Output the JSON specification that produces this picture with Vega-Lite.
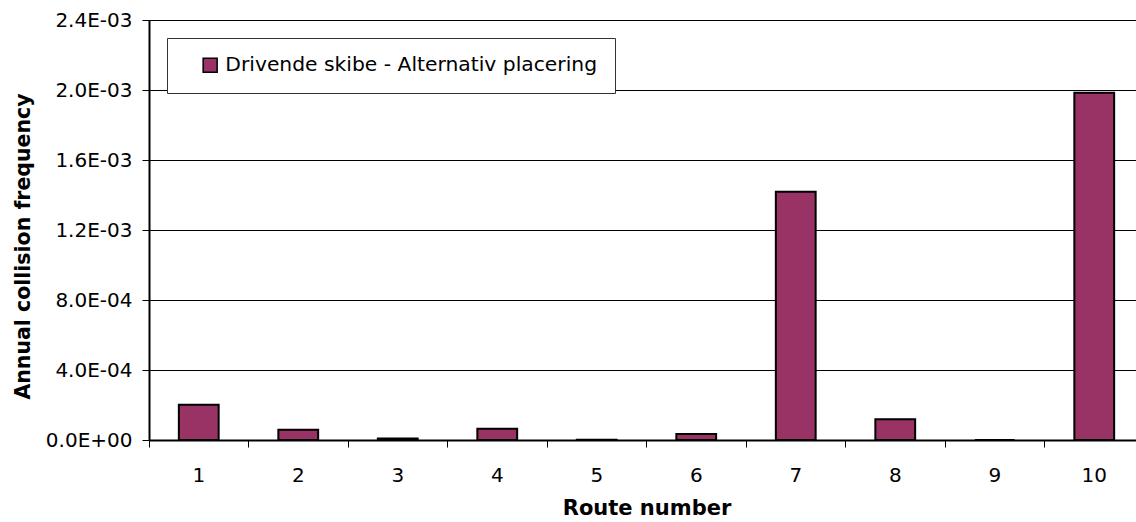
{
  "$schema": "https://vega.github.io/schema/vega-lite/v6.json",
  "width": 995,
  "height": 420,
  "autosize": "none",
  "padding": {"left": 149, "top": 20, "right": 0, "bottom": 82},
  "background": "white",
  "config": {"font": "DejaVu Sans", "view": {"stroke": null}},
  "data": {
    "values": [
      {"route": "1", "freq": 0.000202, "series": "Drivende skibe - Alternativ placering"},
      {"route": "2", "freq": 0.000059, "series": "Drivende skibe - Alternativ placering"},
      {"route": "3", "freq": 0.000008, "series": "Drivende skibe - Alternativ placering"},
      {"route": "4", "freq": 0.000065, "series": "Drivende skibe - Alternativ placering"},
      {"route": "5", "freq": 0.000001, "series": "Drivende skibe - Alternativ placering"},
      {"route": "6", "freq": 0.000034, "series": "Drivende skibe - Alternativ placering"},
      {"route": "7", "freq": 0.001419, "series": "Drivende skibe - Alternativ placering"},
      {"route": "8", "freq": 0.000119, "series": "Drivende skibe - Alternativ placering"},
      {"route": "9", "freq": 0.0, "series": "Drivende skibe - Alternativ placering"},
      {"route": "10", "freq": 0.001984, "series": "Drivende skibe - Alternativ placering"}
    ]
  },
  "mark": {"type": "bar", "width": {"band": 0.4}, "stroke": "#000", "strokeWidth": 2},
  "encoding": {
    "x": {
      "field": "route",
      "type": "ordinal",
      "sort": null,
      "scale": {"paddingInner": 0, "paddingOuter": 0},
      "axis": {
        "labelAngle": 0,
        "bandPosition": 0,
        "grid": false,
        "tickSize": 7,
        "tickColor": "#000",
        "tickWidth": 1,
        "domainColor": "#000",
        "domainWidth": 2,
        "labelFontSize": 20,
        "labelColor": "#000",
        "labelPadding": 18,
        "title": "Route number",
        "titleFontSize": 21,
        "titleFontWeight": "bold",
        "titleColor": "#000",
        "titlePadding": 12
      }
    },
    "y": {
      "field": "freq",
      "type": "quantitative",
      "scale": {"domain": [0, 0.0024], "nice": false},
      "axis": {
        "values": [0, 0.0004, 0.0008, 0.0012, 0.0016, 0.002, 0.0024],
        "labelExpr": "datum.value == 0 ? '0.0E+00' : format(datum.value / pow(10, floor(log(datum.value) / LN10)), '.1f') + 'E-0' + (-floor(log(datum.value) / LN10))",
        "grid": true,
        "gridColor": "#000",
        "gridWidth": 1,
        "gridOpacity": 1,
        "domainColor": "#000",
        "domainWidth": 2,
        "tickColor": "#000",
        "tickSize": 7,
        "tickWidth": 1,
        "labelFontSize": 20,
        "labelColor": "#000",
        "labelPadding": 10,
        "title": "Annual collision frequency",
        "titleFontSize": 20.5,
        "titleFontWeight": "bold",
        "titleColor": "#000",
        "titlePadding": 12,
        "titleY": 226
      }
    },
    "color": {
      "field": "series",
      "type": "nominal",
      "scale": {"range": ["#993366"]},
      "legend": {
        "title": null,
        "orient": "none",
        "legendX": 18,
        "legendY": 18,
        "fillColor": "#fff",
        "strokeColor": "#333",
        "padding": 17,
        "symbolType": "square",
        "symbolSize": 196,
        "symbolStrokeColor": "#000",
        "symbolStrokeWidth": 1.5,
        "symbolOpacity": 1,
        "symbolOffset": 16,
        "labelFontSize": 20.3,
        "labelColor": "#000",
        "labelOffset": 5,
        "labelLimit": 0
      }
    }
  }
}
